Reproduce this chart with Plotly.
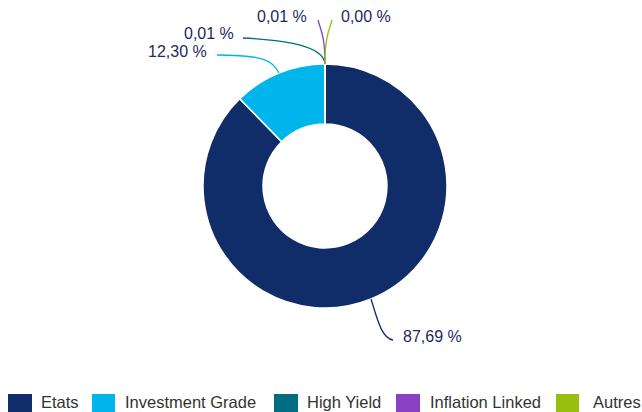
import math
import plotly.graph_objects as go

# ---- data ----
categories = ["Etats", "Investment Grade", "High Yield", "Inflation Linked", "Autres"]
values = [87.69, 12.30, 0.01, 0.01, 0.00]
value_labels = ["87,69 %", "12,30 %", "0,01 %", "0,01 %", "0,00 %"]
colors = ["#102d69", "#00b5eb", "#006e80", "#8a41c2", "#97bf0d"]

# ---- layout (pixels) ----
W, H = 642, 412
CX, CY, R = 325, 186, 122
HOLE = 0.508


def px(x):
    return x / W


def py(y):
    return 1 - y / H


fig = go.Figure(go.Pie(
    labels=categories, values=values, marker=dict(colors=colors, line=dict(color="white", width=1.5)),
    sort=False, direction="clockwise", rotation=0, hole=HOLE, textinfo="none",
    hoverinfo="label+percent", showlegend=False,
    domain=dict(x=[px(CX - R), px(CX + R)], y=[py(CY + R), py(CY - R)]),
))

# label placement (pixels): end of connector, control handles, label anchor
label_layout = [
    dict(end=(393, 340), c1=(378, 322), c2=(382, 338), tx=401, ty=336, anchor="left"),
    dict(end=(217, 55), c1=(273, 60), c2=(262, 55), tx=209, ty=52, anchor="right"),
    dict(end=(243, 38), c1=(324, 50), c2=(302, 41), tx=236, ty=34, anchor="right"),
    dict(end=(318, 20), c1=(325, 34), c2=(320, 29), tx=309, ty=17, anchor="right"),
    dict(end=(332, 20), c1=(325, 34), c2=(330, 29), tx=339, ty=17, anchor="left"),
]

total = sum(values)
cum = 0.0
shapes = []
annotations = []
for v, lab, col, lay in zip(values, value_labels, colors, label_layout):
    mid = (cum + v / 2) / total * 2 * math.pi
    cum += v
    sx, sy = CX + R * math.sin(mid), CY - R * math.cos(mid)
    (ex, ey), (c1x, c1y), (c2x, c2y) = lay["end"], lay["c1"], lay["c2"]
    path = (f"M {px(sx)},{py(sy)} C {px(c1x)},{py(c1y)} {px(c2x)},{py(c2y)} {px(ex)},{py(ey)}")
    shapes.append(dict(type="path", path=path, xref="paper", yref="paper",
                       line=dict(color=col, width=1.3)))
    annotations.append(dict(x=px(lay["tx"]), y=py(lay["ty"]), xref="paper", yref="paper",
                            text=lab, showarrow=False, xanchor=lay["anchor"], yanchor="middle",
                            font=dict(family="Liberation Sans, Arial, sans-serif", size=16, color="#1b2b5e")))

# custom legend
legend_x = [(8, 32, 40), (92, 115, 124), (274, 298, 306), (396, 420, 429), (556, 579, 592)]
for cat, col, (x0, x1, tx) in zip(categories, colors, legend_x):
    shapes.append(dict(type="rect", xref="paper", yref="paper", x0=px(x0), x1=px(x1),
                       y0=py(412), y1=py(394), fillcolor=col, line=dict(width=0)))
    annotations.append(dict(x=px(tx), y=0, xref="paper", yref="paper", text=cat,
                            showarrow=False, xanchor="left", yanchor="bottom", borderpad=0,
                            font=dict(family="Liberation Sans, Arial, sans-serif", size=16.5, color="#333333")))

fig.update_layout(
    width=W, height=H, margin=dict(l=0, r=0, t=0, b=0),
    paper_bgcolor="white", plot_bgcolor="white",
    shapes=shapes, annotations=annotations, showlegend=False,
)

fig.write_html("out.html", config={"displayModeBar": False},
               post_script="document.body.style.margin='0';document.body.style.overflow='hidden';")
